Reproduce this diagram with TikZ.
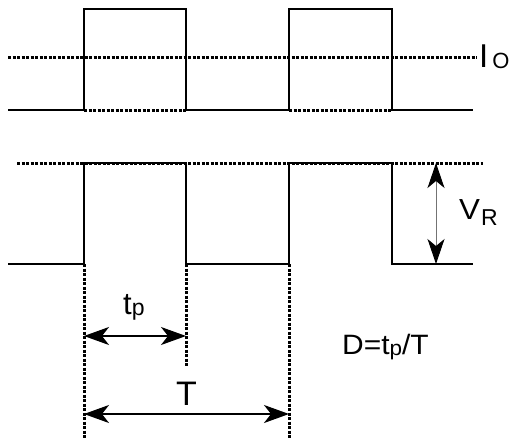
\documentclass[tikz,border=0pt]{standalone}
\usepackage{fontspec}
\setmainfont{Liberation Sans}
\usetikzlibrary{arrows.meta}
\newcommand{\fs}[1]{\fontsize{#1}{#1}\selectfont}
\begin{document}
\begin{tikzpicture}[x=1pt,y=-1pt,
  wave/.style={line width=2.3pt,line join=miter},
  dots/.style={line width=3pt,dash pattern=on 3pt off 1.5pt},
  dimarrow/.style={line width=1.5pt,{Stealth[length=25pt,width=18pt,inset=7pt]}-{Stealth[length=25pt,width=18pt,inset=7pt]}},
  lbl/.style={inner sep=0pt,anchor=base west}]
\useasboundingbox (0,0) rectangle (516,439);
% guide dotted lines
\draw[dots] (8,57) -- (477,57);
\draw[dots] (17,163) -- (483,163);
\draw[dots] (84,110) -- (186,110);
\draw[dots] (289,110) -- (392,110);
\draw[dots] (84,264) -- (84,439);
\draw[dots] (186,264) -- (186,367);
\draw[dots] (289,264) -- (289,439);
% waveforms
\draw[wave] (8,110) -- (84,110) -- (84,9) -- (186,9) -- (186,110) -- (289,110) -- (289,9) -- (392,9) -- (392,110) -- (473,110);
\draw[wave] (8,264) -- (84,264) -- (84,163) -- (186,163) -- (186,264) -- (289,264) -- (289,163) -- (392,163) -- (392,264) -- (473,264);
% arrows
\coordinate (vrtop) at (436,163);
\coordinate (vrbot) at (436,264);
\coordinate (tpl) at (84,336);
\coordinate (tpr) at (186,336);
\coordinate (tl) at (84,414);
\coordinate (tr) at (289,414);
\draw[line width=1pt,draw=black!55,{Stealth[length=25pt,width=17pt,inset=7pt,color=black]}-{Stealth[length=25pt,width=17pt,inset=7pt,color=black]}] (vrtop) -- (vrbot);
\draw[dimarrow] (tpl) -- (tpr);
\draw[dimarrow] (tl) -- (tr);
% labels
\node[lbl] (io) at (479,67) {\fs{33}I\hspace{4pt}\raisebox{-1pt}{\fs{22}O}};
\node[lbl] (vr) at (459,219) {\fs{29}\scalebox{1.08}[1]{V}\hspace{1pt}\raisebox{-6pt}{\fs{23}R}};
\node[lbl] (tp) at (123,314) {\fs{31}t\raisebox{-1pt}{\fs{23}p}};
\node[lbl] (T) at (176,405) {\fs{34}T};
\node[lbl] (D) at (342,354) {\scalebox{1.07}[1]{\fs{28}D=t\raisebox{-1pt}{\fs{21}p}/T}};
\end{tikzpicture}
\end{document}
